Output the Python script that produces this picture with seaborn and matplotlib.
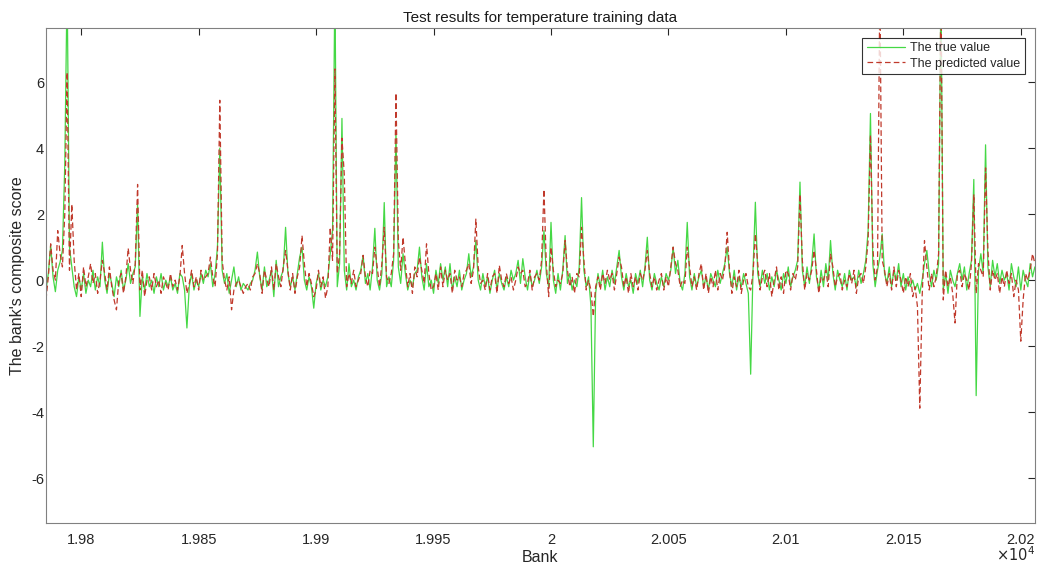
import numpy as np
import pandas as pd
import seaborn as sns
import matplotlib
matplotlib.use("Agg")
import matplotlib.pyplot as plt
from matplotlib.ticker import FuncFormatter, MultipleLocator

# =====================================================
# data
# =====================================================

START_BANK = 19785

true_values = [
    -0.3, 0.2, 1.05, 0.1, -0.35, 0.3, 0.55, 0.9, 3.5, 9.0, 1.0, 0.4, -0.2, -0.5, 0.1, -0.3, 0.2, -0.4, 0.0, -0.2,
    0.3, -0.3, 0.1, -0.2, 1.15, 0.0, -0.4, 0.2, -0.1, -0.5, 0.1, -0.2, 0.3, -0.3, 0.0, 0.5, -0.1, 0.2, 0.4, 2.3,
    -1.1, 0.1, -0.3, 0.2, -0.2, 0.0, -0.4, 0.1, -0.2, 0.2, -0.3, 0.0, -0.2, 0.1, -0.3, -0.1, -0.4, 0.2, 0.1, -0.3,
    -1.45, -0.2, 0.2, -0.3, 0.0, -0.2, 0.2, -0.1, 0.3, 0.1, 0.5, -0.2, 0.2, 1.0, 4.0, 0.3, -0.1, 0.2, -0.4, 0.0,
    0.4, -0.2, 0.1, -0.3, -0.1, -0.2, -0.3, -0.1, 0.0, 0.3, 0.85, 0.1, -0.3, 0.4, -0.2, 0.0, 0.3, -0.5, 0.6, -0.2,
    0.1, 0.3, 1.6, 0.2, -0.2, 0.1, -0.3, 0.2, 0.7, 1.0, 0.0, -0.3, 0.1, -0.2, -0.85, -0.1, 0.2, -0.3, 0.0, -0.2,
    0.1, 0.8, 1.5, 9.0, -0.2, 0.5, 4.9, 0.3, -0.3, 0.5, -0.2, 0.0, -0.3, 0.1, 0.3, 0.75, -0.1, 0.2, -0.3, 0.4,
    1.57, 0.0, -0.3, 0.2, 2.35, -0.2, 0.1, -0.2, 0.6, 4.5, 0.4, -0.1, 0.8, 0.2, -0.3, 0.0, -0.2, 0.2, 0.3, 1.0,
    0.1, -0.3, 0.5, -0.2, 0.0, -0.4, 0.3, -0.1, 0.5, 0.0, 0.4, -0.2, 0.5, -0.3, 0.1, -0.2, 0.3, -0.3, 0.0, 0.2,
    0.8, 0.1, 0.4, 1.2, 0.0, -0.3, 0.2, -0.2, 0.1, -0.4, 0.0, 0.3, -0.3, 0.2, -0.1, -0.3, 0.1, -0.2, 0.3, 0.0,
    0.2, 0.6, -0.1, 0.65, 0.1, -0.3, 0.2, -0.2, 0.0, 0.3, -0.1, 0.4, 1.5, 0.2, -0.2, 1.75, 0.0, -0.4, 0.2, -0.3,
    0.3, 1.35, -0.1, 0.2, -0.3, 0.0, -0.2, 0.4, 2.5, 0.3, -0.2, 0.1, -0.8, -5.05, -0.4, 0.2, -0.2, 0.3, -0.3, 0.1,
    -0.2, 0.3, -0.1, 0.4, 0.9, 0.1, -0.3, 0.2, -0.2, 0.0, -0.4, 0.2, -0.1, 0.3, -0.2, 0.4, 1.3, 0.0, -0.3, 0.2,
    -0.1, -0.3, 0.1, -0.2, 0.2, 0.0, 0.3, 1.0, 0.2, 0.6, -0.1, -0.3, 0.2, 1.75, 0.1, -0.3, 0.2, -0.2, 0.1, 0.3,
    -0.2, 0.1, -0.3, 0.2, 0.0, -0.2, 0.3, -0.1, 0.2, 0.5, 1.0, 0.2, -0.2, 0.3, -0.3, 0.1, -0.2, 0.2, -0.1, -0.4,
    -2.85, 0.3, 2.36, 0.2, -0.2, 0.3, -0.1, 0.2, -0.3, 0.1, -0.2, 0.3, 0.0, -0.3, 0.2, -0.1, 0.4, -0.2, 0.1, 0.3,
    0.6, 2.97, 0.3, -0.2, 0.4, -0.1, 0.5, 1.4, 0.1, -0.3, 0.3, -0.2, 0.5, 0.0, 1.2, 0.2, -0.3, 0.3, 0.0, -0.2,
    0.2, -0.3, 0.3, 0.0, 0.1, -0.2, 0.3, -0.1, 0.2, 0.6, 1.5, 5.05, 0.5, -0.2, 0.3, 0.7, 1.4, 0.2, -0.1, 0.4,
    -0.2, 0.3, 0.0, 0.5, -0.2, 0.2, -0.3, 0.1, -0.2, 0.0, -0.3, -0.1, -0.4, 0.0, 0.5, 0.9, 0.2, -0.2, 0.3, 0.0,
    0.5, 9.0, -0.3, 0.2, -0.4, 0.3, 0.0, -0.2, 0.2, 0.5, 0.0, 0.4, -0.3, 0.2, 0.6, 3.05, -3.5, 0.3, 0.8, 0.2,
    4.1, 0.4, -0.2, 0.6, 0.1, 0.5, -0.1, 0.3, 0.0, 0.2, -0.3, 0.5, 0.1, -0.2, 0.4, -0.3, 0.3, 0.0, -0.2, 0.5,
    0.1, 0.4,
]

predicted_values = [
    -0.6, 0.1, 1.1, 0.3, 0.0, 1.5, 0.8, 0.4, 2.0, 6.3, 0.3, 2.3, 0.6, -0.3, 0.2, -0.5, 0.4, -0.2, 0.1, 0.5,
    -0.1, 0.2, -0.4, 0.0, 0.6, 0.2, -0.3, 0.4, -0.2, -0.6, -0.9, 0.0, 0.2, -0.4, 0.1, 0.97, 0.3, -0.1, 0.5, 2.9,
    -0.3, 0.3, -0.5, 0.0, 0.1, -0.3, 0.2, -0.2, 0.0, -0.4, 0.1, -0.1, -0.3, 0.2, -0.2, 0.0, -0.3, 0.1, 1.05, 0.2,
    -0.4, -0.1, 0.3, -0.2, 0.1, -0.3, 0.3, 0.0, 0.1, 0.2, 0.7, 0.1, -0.2, 0.8, 5.45, 0.6, 0.0, -0.3, 0.1, -0.9,
    -0.3, -0.1, 0.0, -0.2, -0.4, -0.2, -0.1, -0.3, 0.1, 0.2, 0.5, 0.2, -0.4, 0.3, 0.0, -0.2, 0.4, -0.3, 0.5, 0.1,
    -0.2, 0.4, 0.9, 0.3, -0.3, 0.2, -0.4, 0.1, 0.4, 1.35, 0.5, -0.2, 0.2, -0.1, -0.5, -0.3, 0.3, -0.2, 0.1, -0.55,
    -0.2, 1.6, 0.6, 6.4, 0.2, 0.8, 4.3, 3.2, -0.2, 0.2, -0.1, 0.3, -0.2, 0.0, 0.2, 0.75, 0.1, -0.2, 0.3, 0.2,
    1.0, 0.4, -0.2, 0.5, 1.6, 0.1, -0.1, 0.2, 0.8, 5.67, 1.2, 0.3, 1.3, 0.5, -0.2, 0.2, -0.4, 0.4, 0.1, 0.7,
    0.3, -0.1, 1.1, 0.2, -0.3, -0.2, 0.2, -0.3, 0.4, -0.2, 0.3, 0.0, 0.2, -0.4, 0.3, 0.0, 0.1, -0.2, 0.2, 0.3,
    0.5, -0.1, 0.3, 1.85, 0.4, -0.1, 0.0, -0.3, 0.2, -0.3, 0.1, 0.2, -0.4, 0.45, 0.0, -0.2, 0.2, -0.1, 0.1, -0.3,
    0.0, 0.4, 0.2, 0.3, -0.2, -0.1, 0.3, -0.3, 0.1, 0.2, 0.0, 0.6, 2.75, 0.5, -0.5, 1.0, 0.3, -0.2, 0.0, -0.1,
    0.2, 1.2, 0.3, -0.2, 0.1, -0.4, 0.2, 0.1, 1.6, 0.6, -0.3, 0.0, -0.3, -1.1, -0.2, 0.1, -0.3, 0.2, -0.1, 0.3,
    0.0, 0.2, -0.3, 0.2, 0.7, 0.4, -0.2, 0.1, -0.4, 0.2, -0.2, 0.1, -0.3, 0.2, 0.0, 0.3, 0.9, 0.2, -0.2, 0.1,
    -0.3, 0.0, 0.2, -0.3, 0.1, -0.2, 0.4, 1.0, 0.5, 0.3, -0.2, 0.0, -0.1, 1.0, 0.4, -0.2, 0.1, -0.3, 0.2, 0.5,
    -0.3, 0.2, -0.4, 0.1, -0.2, 0.3, -0.3, 0.2, 0.0, 0.4, 1.45, 0.3, -0.4, 0.1, -0.2, 0.3, -0.4, 0.0, 0.2, -0.2,
    -0.3, 0.2, 1.4, 0.5, -0.3, 0.1, 0.3, -0.2, 0.2, -0.5, 0.0, 0.4, -0.3, 0.1, -0.4, 0.3, 0.2, -0.3, 0.2, 0.0,
    0.4, 2.6, 0.6, -0.3, 0.2, 0.0, 0.3, 0.9, 0.3, -0.4, 0.1, 0.0, 0.3, -0.2, 0.8, 0.4, -0.2, 0.1, 0.2, -0.3,
    0.0, -0.2, 0.2, -0.1, 0.3, -0.4, 0.1, 0.2, -0.1, 0.4, 1.2, 4.4, 1.0, 0.0, 0.4, 9.0, 0.6, 0.3, -0.2, 0.2,
    -0.3, 0.4, -0.2, 0.3, 0.0, -0.4, 0.1, -0.2, 0.2, -0.5, -0.2, -0.8, -3.88, -0.5, 1.2, 0.4, -0.3, 0.2, -0.2, 0.1,
    0.8, 9.0, -0.6, 0.3, -0.2, 0.1, -0.4, -1.3, 0.2, 0.3, -0.2, 0.2, 0.0, -0.3, 0.5, 2.6, -0.4, 0.5, 0.3, 0.1,
    3.4, 0.9, -0.3, 0.3, 0.0, 0.2, -0.4, 0.1, -0.2, 0.3, -0.1, 0.2, -0.5, 0.0, -0.3, -1.85, -0.6, 0.2, 0.0, 0.3,
    0.8, 0.5,
]

bank = np.arange(START_BANK, START_BANK + len(true_values))

df = pd.DataFrame({
    "bank": bank,
    "true": true_values,
    "pred": predicted_values,
})

# =====================================================
# style
# =====================================================

sns.set_style("white")
plt.rcParams["font.family"] = ["Liberation Sans", "DejaVu Sans"]

fig = plt.figure(figsize=(10.38, 5.68), dpi=100)
ax = fig.add_axes([0.0443, 0.0792, 0.9527, 0.8715])

sns.lineplot(
    data=df, x="bank", y="true", ax=ax,
    color="#45d845", linewidth=0.9, label="The true value"
)
sns.lineplot(
    data=df, x="bank", y="pred", ax=ax,
    color="#c0392b", linewidth=0.9, linestyle="--", dashes=False,
    label="The predicted value"
)
ax.lines[1].set_dashes((4.5, 2.5))

ax.set_xlim(19785, 20206)
ax.set_ylim(-7.36, 7.64)

ax.xaxis.set_major_locator(MultipleLocator(50))
ax.yaxis.set_major_locator(MultipleLocator(2))
ax.xaxis.set_major_formatter(FuncFormatter(lambda v, p: "%g" % round(v / 1e4, 4)))
ax.yaxis.set_major_formatter(FuncFormatter(lambda v, p: "%g" % v))

ax.tick_params(
    direction="in", length=5, width=0.8, top=True, right=True,
    labelsize=10.5, colors="#262626"
)
ax.tick_params(axis="x", pad=7)
ax.tick_params(axis="y", pad=1.5)
for s in ax.spines.values():
    s.set_color("#808080")
    s.set_linewidth(0.8)

ax.set_title("Test results for temperature training data", fontsize=11, color="#1a1a1a", pad=4)
ax.set_xlabel("Bank", fontsize=11.5, color="#262626", labelpad=2)
ax.set_ylabel("The bank's composite score", fontsize=11.5, color="#262626", labelpad=4)

ax.text(1.0, -0.046, r"$\times10^{4}$", transform=ax.transAxes,
        ha="right", va="top", fontsize=10.5, color="#262626")

leg = ax.legend(loc="upper right", fontsize=9, frameon=True, fancybox=False,
                borderaxespad=0.8, handlelength=3.1, handletextpad=0.4,
                borderpad=0.35, labelspacing=0.25)
leg.get_frame().set_edgecolor("black")
leg.get_frame().set_linewidth(0.8)

fig.savefig("out.png", dpi=100)
